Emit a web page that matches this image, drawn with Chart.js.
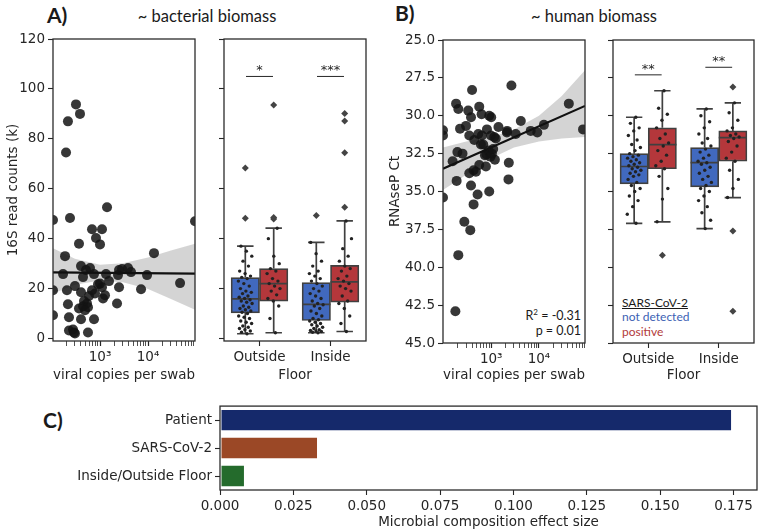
<!DOCTYPE html>
<html>
<head>
<meta charset="utf-8">
<script src="https://cdn.jsdelivr.net/npm/chart.js@4.4.0/dist/chart.umd.min.js"></script>
<style>
  body { margin: 0; background: #fff; width: 758px; height: 532px; position: relative; overflow: hidden; }
  canvas { position: absolute; }
  .t { position: absolute; white-space: nowrap; font-family: Lato, 'Open Sans', sans-serif; color: #1a1a1a; line-height: 1; }
</style>
</head>
<body>
<div class="t" style="left:47px;top:4px;font-size:21px;font-weight:bold">A)</div>
<div class="t" style="left:207px;top:8px;font-size:16.5px;transform:translateX(-50%)">~ bacterial biomass</div>
<div class="t" style="left:395px;top:2px;font-size:21px;font-weight:bold">B)</div>
<div class="t" style="left:594px;top:8px;font-size:16.5px;transform:translateX(-50%)">~ human biomass</div>
<div class="t" style="left:43px;top:409px;font-size:21px;font-weight:bold">C)</div>
<div class="t" style="right:177px;top:308px;font-size:12.5px">R<sup style="font-size:8px">2</sup> = -0.31</div>
<div class="t" style="right:177px;top:325px;font-size:12.5px">p = 0.01</div>
<div class="t" style="left:622px;top:297px;font-size:12px;text-decoration:underline">SARS-CoV-2</div>
<div class="t" style="left:622px;top:311px;font-size:12px;color:#3c5fb4">not detected</div>
<div class="t" style="left:622px;top:326px;font-size:12px;color:#b23a3a">positive</div>

<canvas id="cA1" width="200" height="400" style="left:0;top:0"></canvas>
<canvas id="cA2" width="175" height="400" style="left:200px;top:0"></canvas>
<canvas id="cB1" width="210" height="400" style="left:380px;top:0"></canvas>
<canvas id="cB2" width="168" height="400" style="left:590px;top:0"></canvas>
<canvas id="cC" width="758" height="137" style="left:0;top:395px"></canvas>

<script>
// ---- data ----
const floors = ['Outside', 'Inside'];

// A) scatter: viral copies per swab vs 16S read counts (k)
const copiesA = [105, 316, 383, 215, 196, 237, 1400, 681, 1100, 825, 1000, 365, 187, 170, 402, 511,
  619, 443, 205, 105, 215, 226, 105, 226, 287, 274, 301, 562, 402, 750, 301, 402, 365, 443, 464, 536,
  590, 681, 787, 750, 909, 1000, 1100, 1155, 1271, 1334, 1540, 562, 487, 2371, 2489, 2873, 3831, 4423,
  2489, 2260, 7150, 9530, 13300, 46400, 95000];
const readsA = [47.5, 93.8, 90, 87, 74.5, 48.3, 52.6, 43.8, 43.8, 40.3, 37.7, 38, 33, 25.8, 29, 27.4,
  28.2, 24.6, 19.3, 19.3, 13.7, 8.5, 9.3, 3.2, 2.4, 3.6, 2, 2.4, 7.7, 7.7, 21, 18.5, 12, 12.9, 15, 14,
  17, 19.3, 18, 25.8, 21.7, 22, 20.5, 16, 17.3, 25.8, 23, 12.5, 11.3, 25.4, 27.4, 27.8, 28.2, 26.6,
  20.5, 14, 19.7, 25.4, 34.2, 22.2, 47];
const fitAx = [105, 95000];
const fitAy = [26.5, 26.0];
const bandAx = [105, 300, 1000, 3000, 10000, 30000, 95000];
const bandAhi = [36.2, 32.0, 29.6, 30.2, 32.5, 35.3, 38.0];
const bandAlo = [18.0, 21.5, 23.2, 22.5, 19.8, 15.8, 11.5];

// A) boxes: 16S read counts by floor, SARS-CoV-2 not detected / positive
const aNdQ1 = [10.3, 7.2], aNdMed = [15.9, 13.7], aNdQ3 = [24.4, 22.4], aNdLo = [1.9, 2.3], aNdHi = [37, 38.5];
const aPoQ1 = [15, 14.6], aPoMed = [22, 22.7], aPoQ3 = [28, 29.3], aPoLo = [2.3, 2.8], aPoHi = [44.2, 47.1];
const aNdFliers = [[48.2, 68.3], [49.3]];
const aPoFliers = [[47.9, 48.5, 93.6], [52.6, 74.4, 87.1, 90.2]];
const aNdDots = [
  [1.9, 2.5, 3, 3.5, 4, 4.5, 5, 6, 6.5, 7, 8, 8.5, 9, 10, 10.5, 11, 11.5, 12, 12.5, 13, 14, 14.5, 15,
   15.5, 16, 16.5, 17, 18, 18.5, 19, 20, 21, 22, 23, 24, 24.5, 25, 26, 27, 29, 31, 33, 35, 37],
  [2.3, 2.5, 2.8, 3, 3.2, 3.5, 4, 4.5, 5, 5.5, 6, 6.5, 7, 7.5, 8, 9, 10, 11, 12, 13, 13.5, 14, 15, 16,
   17, 18, 19, 20, 21, 22, 23, 24, 25, 26, 27, 29, 31, 34, 38.5]
];
const aPoDots = [
  [2.3, 8, 13, 15, 16, 17.5, 19, 20, 21, 22, 23, 24, 26, 27, 28, 30, 33, 40, 44.2],
  [2.8, 6, 9, 12, 14, 15, 17, 19, 20, 21, 22, 23, 24, 25, 27, 28, 29, 31, 33, 36, 40, 47.1]
];
const sigA = ['*', '***'];
const sigAy = [105, 105];

// B) scatter: viral copies per swab vs RNAseP Ct
const copiesB = [98, 98, 98, 178, 205, 274, 365, 184, 205, 331, 398, 378, 562, 630, 910, 1000, 223, 297,
  348, 443, 536, 640, 681, 986, 1155, 1250, 1420, 2154, 2130, 4170, 3270, 6720, 9230, 12700, 2650, 42200,
  83700, 156, 196, 251, 189, 348, 378, 428, 479, 519, 428, 562, 610, 740, 776, 800, 879, 967, 1034, 1100,
  1195, 910, 2340, 2300, 815];
const ctB = [30.96, 31.3, 35.4, 42.9, 39.2, 37.0, 37.55, 29.2, 29.55, 29.66, 28.3, 30.1, 29.4, 29.9, 30.0,
  30.1, 30.85, 30.67, 31.3, 31.6, 31.2, 31.3, 31.9, 31.3, 31.4, 31.5, 30.74, 31.0, 31.1, 30.35, 31.2, 31.0,
  31.1, 30.6, 28.0, 29.2, 30.9, 33.0, 32.4, 32.5, 34.3, 33.8, 34.6, 33.6, 33.7, 35.2, 35.85, 33.25, 31.9,
  32.6, 33.35, 32.55, 32.3, 32.7, 32.5, 32.2, 32.9, 35.0, 33.1, 34.2, 30.9];
const fitBx = [98, 92000];
const fitBy = [33.5, 29.35];
const bandBx = [98, 300, 1000, 3000, 10000, 30000, 92000];
const bandBhi = [32.1, 31.7, 31.4, 30.9, 30.0, 28.7, 27.0];
const bandBlo = [34.9, 33.9, 32.8, 32.1, 31.7, 31.5, 31.4];

// B) boxes: RNAseP Ct by floor
const bNdQ1 = [32.5, 32.1], bNdMed = [33.35, 33.1], bNdQ3 = [34.5, 34.7], bNdLo = [30.1, 29.55], bNdHi = [37.1, 37.45];
const bPoQ1 = [30.8, 31.0], bPoMed = [31.9, 31.45], bPoQ3 = [33.5, 33.0], bPoLo = [28.35, 29.15], bPoHi = [37.0, 35.4];
const bNdFliers = [[], []];
const bPoFliers = [[39.2], [28.1, 37.6, 42.9]];
const bNdDots = [
  [30.1, 30.5, 30.8, 31.0, 31.3, 31.6, 31.9, 32.1, 32.3, 32.5, 32.6, 32.7, 32.8, 32.9, 33.0, 33.1, 33.2,
   33.3, 33.4, 33.5, 33.6, 33.7, 33.8, 33.9, 34.0, 34.2, 34.4, 34.6, 34.8, 35.0, 35.3, 35.6, 36.0, 36.5, 37.1],
  [29.55, 30.0, 30.4, 30.8, 31.2, 31.5, 31.8, 32.0, 32.2, 32.4, 32.6, 32.8, 33.0, 33.1, 33.2, 33.4, 33.6,
   33.8, 34.0, 34.2, 34.4, 34.6, 34.8, 35.0, 35.3, 35.6, 36.0, 36.4, 36.9, 37.45]
];
const bPoDots = [
  [28.35, 29.5, 29.9, 30.3, 30.8, 31.2, 31.5, 31.8, 32.0, 32.3, 32.6, 33.0, 33.3, 33.5, 34.0, 34.8, 35.5, 37.0],
  [29.15, 29.8, 30.3, 30.8, 31.0, 31.2, 31.3, 31.4, 31.5, 31.7, 32.0, 32.4, 32.8, 33.0, 33.6, 34.2, 34.8, 35.4]
];
const sigB = ['**', '**'];
const sigBy = [27.3, 26.8];

// C) effect sizes
const factors = ['Patient', 'SARS-CoV-2', 'Inside/Outside Floor'];
const effects = [0.1745, 0.0334, 0.0085];

// tick values
const logTicks = [200, 300, 400, 500, 600, 700, 800, 900, 1000, 2000, 3000, 4000, 5000, 6000, 7000, 8000,
  9000, 10000, 20000, 30000, 40000, 50000, 60000, 70000, 80000, 90000];
const logLabels = { 1000: '10³', 10000: '10⁴' };
const ticksA = [0, 20, 40, 60, 80, 100, 120];
const ticksB = [25, 27.5, 30, 32.5, 35, 37.5, 40, 42.5, 45];
const ticksC = [0, 0.025, 0.05, 0.075, 0.1, 0.125, 0.15, 0.175];

// ---- styles ----
const ink = '#262626';
const edge = '#404040';
const blue = '#4169be';
const red = '#b4373b';
const barColors = ['#15296b', '#9b4826', '#246b2c'];
const ptColor = 'rgba(20,20,20,0.85)';
const bandColor = 'rgba(160,160,160,0.45)';

Chart.defaults.font.family = "'DejaVu Sans', sans-serif";
Chart.defaults.font.size = 13.5;
Chart.defaults.color = ink;

const framePlugin = {
  id: 'frame',
  afterDraw(chart) {
    const { ctx, chartArea: a } = chart;
    ctx.save();
    ctx.strokeStyle = '#2b2b2b';
    ctx.lineWidth = 1.3;
    ctx.strokeRect(a.left, a.top, a.right - a.left, a.bottom - a.top);
    ctx.restore();
  }
};

// whiskers, caps and medians for the floating-bar boxes
const boxPlugin = {
  id: 'boxes',
  afterDatasetDraw(chart, args) {
    const ds = chart.data.datasets[args.index];
    if (args.meta.type !== 'bar' || !ds.med) return;
    const y = chart.scales.y;
    const ctx = chart.ctx;
    ctx.save();
    ctx.strokeStyle = edge;
    ctx.lineWidth = 1.7;
    args.meta.data.forEach((bar, i) => {
      const half = bar.width / 2, cap = half * 0.58;
      const y1 = y.getPixelForValue(ds.data[i].y[0]), y3 = y.getPixelForValue(ds.data[i].y[1]);
      const lo = y.getPixelForValue(ds.lo[i]), hi = y.getPixelForValue(ds.hi[i]);
      const m = y.getPixelForValue(ds.med[i]);
      ctx.beginPath();
      ctx.moveTo(bar.x, y1); ctx.lineTo(bar.x, lo);
      ctx.moveTo(bar.x, y3); ctx.lineTo(bar.x, hi);
      ctx.moveTo(bar.x - cap, lo); ctx.lineTo(bar.x + cap, lo);
      ctx.moveTo(bar.x - cap, hi); ctx.lineTo(bar.x + cap, hi);
      ctx.moveTo(bar.x - half, m); ctx.lineTo(bar.x + half, m);
      ctx.stroke();
    });
    ctx.restore();
  }
};

// significance bars
const sigPlugin = {
  id: 'sig',
  afterDraw(chart, args, opts) {
    if (!opts.marks) return;
    const { ctx } = chart;
    const xs = chart.scales.x, y = chart.scales.y;
    ctx.save();
    ctx.strokeStyle = ink;
    ctx.fillStyle = ink;
    ctx.lineWidth = 1;
    ctx.font = "13px 'DejaVu Sans'";
    ctx.textAlign = 'center';
    ctx.textBaseline = 'bottom';
    opts.marks.forEach((mark, i) => {
      const py = y.getPixelForValue(opts.at[i]);
      ctx.beginPath();
      ctx.moveTo(xs.getPixelForValue(i - 0.19), py);
      ctx.lineTo(xs.getPixelForValue(i + 0.19), py);
      ctx.stroke();
      ctx.fillText(mark, xs.getPixelForValue(i), py + 1);
    });
    ctx.restore();
  }
};

Chart.register(framePlugin, boxPlugin, sigPlugin);

const tickGrid = { drawOnChartArea: false, drawTicks: true, tickLength: 5, tickColor: ink, tickWidth: 1.1 };
const noPlugins = { legend: { display: false }, tooltip: { enabled: false } };
// strip-plot jitter: golden-ratio spread within +-0.1 of the box centre
const jit = k => (((k * 0.618034) % 1) - 0.5) * 0.2;
const pts = (xs, ys) => xs.map((x, i) => ({ x, y: ys[i] }));

function logAxis(min, max, bottom) {
  return {
    type: 'logarithmic', min, max,
    afterBuildTicks: s => { s.ticks = logTicks.map(v => ({ value: v })); },
    afterFit: s => { s.height = 400 - bottom; },
    border: { display: false },
    grid: Object.assign({}, tickGrid, { tickWidth: c => (c.tick && logLabels[c.tick.value] ? 1.2 : 0.8) }),
    ticks: { autoSkip: false, maxRotation: 0, padding: 3, callback: v => logLabels[v] || '' },
    title: { display: true, text: 'viral copies per swab', padding: { top: 0, bottom: 16 } }
  };
}

function scatterSets(xs, ys, fx, fy, bx, bhi, blo) {
  return [
    { data: pts(fx, fy), showLine: true, borderColor: '#111', borderWidth: 2.2, pointRadius: 0 },
    { data: pts(xs, ys), pointRadius: 5, backgroundColor: ptColor, borderWidth: 0 },
    { data: pts(bx, bhi), showLine: true, borderColor: 'transparent', pointRadius: 0, fill: '+1', backgroundColor: bandColor },
    { data: pts(bx, blo), showLine: true, borderColor: 'transparent', pointRadius: 0 }
  ];
}

// groups: [q1, median, q3, whisker low, whisker high]
function boxSets(nd, po, fliersNd, fliersPo, dotsNd, dotsPo) {
  const dots = (groups, off) => groups.flatMap((g, i) => g.map((v, k) => ({ x: i + off + jit(k + 1), y: v })));
  const fl = (groups, off) => groups.flatMap((g, i) => g.map(v => ({ x: i + off, y: v })));
  const dotStyle = { type: 'scatter', pointRadius: 1.7, backgroundColor: '#222', borderWidth: 0 };
  const flStyle = { type: 'scatter', pointStyle: 'rectRot', pointRadius: 3.5, backgroundColor: '#444', borderWidth: 0 };
  const box = (g, off, color) => ({
    type: 'bar', grouped: false, categoryPercentage: 1, barPercentage: 1,
    data: floors.map((_, i) => ({ x: i + off, y: [g[0][i], g[2][i]] })),
    med: g[1], lo: g[3], hi: g[4],
    backgroundColor: color, borderColor: edge, borderWidth: 1.7, borderSkipped: false
  });
  return [
    Object.assign({ data: dots(dotsNd, -0.2) }, dotStyle),
    Object.assign({ data: dots(dotsPo, 0.2) }, dotStyle),
    Object.assign({ data: fl(fliersNd, -0.2) }, flStyle),
    Object.assign({ data: fl(fliersPo, 0.2) }, flStyle),
    box(nd, -0.2, blue),
    box(po, 0.2, red)
  ];
}

function boxX(bottom) {
  return {
    type: 'linear', min: -0.5, max: 1.5, offset: false,
    afterBuildTicks: s => { s.ticks = floors.map((_, i) => ({ value: i })); },
    afterFit: s => { s.height = 400 - bottom; },
    border: { display: false },
    grid: Object.assign({ offset: false }, tickGrid),
    ticks: { padding: 3, maxRotation: 0, autoSkip: false, callback: v => floors[v] },
    title: { display: true, text: 'Floor', padding: { top: 0, bottom: 16 } }
  };
}

// A) scatter
new Chart(document.getElementById('cA1'), {
  type: 'scatter',
  data: { datasets: scatterSets(copiesA, readsA, fitAx, fitAy, bandAx, bandAhi, bandAlo) },
  options: {
    responsive: false, animation: false, events: [],
    layout: { padding: { top: 39, right: 5, left: 0, bottom: 0 } },
    plugins: noPlugins,
    scales: {
      x: logAxis(105, 95000, 341),
      y: {
        min: -1, max: 120,
        afterBuildTicks: s => { s.ticks = ticksA.map(v => ({ value: v })); },
        afterFit: s => { s.width = 53; },
        border: { display: false }, grid: tickGrid, ticks: { padding: 3 },
        title: { display: true, text: '16S read counts (k)', padding: { top: 5, bottom: 0 } }
      }
    }
  }
});

// A) boxes
new Chart(document.getElementById('cA2'), {
  type: 'bar',
  data: {
    datasets: boxSets([aNdQ1, aNdMed, aNdQ3, aNdLo, aNdHi], [aPoQ1, aPoMed, aPoQ3, aPoLo, aPoHi],
      aNdFliers, aPoFliers, aNdDots, aPoDots)
  },
  options: {
    responsive: false, animation: false, events: [],
    layout: { padding: { top: 39, right: 9, left: 0, bottom: 0 } },
    plugins: Object.assign({ sig: { marks: sigA, at: sigAy } }, noPlugins),
    scales: {
      x: boxX(341),
      y: {
        min: -1, max: 120,
        afterBuildTicks: s => { s.ticks = ticksA.map(v => ({ value: v })); },
        afterFit: s => { s.width = 24; },
        border: { display: false }, grid: tickGrid, ticks: { callback: () => '' }
      }
    }
  }
});

// B) scatter
new Chart(document.getElementById('cB1'), {
  type: 'scatter',
  data: { datasets: scatterSets(copiesB, ctB, fitBx, fitBy, bandBx, bandBhi, bandBlo) },
  options: {
    responsive: false, animation: false, events: [],
    layout: { padding: { top: 40, right: 4, left: 0, bottom: 0 } },
    plugins: noPlugins,
    scales: {
      x: logAxis(98, 92000, 343),
      y: {
        min: 25, max: 45, reverse: true,
        afterBuildTicks: s => { s.ticks = ticksB.map(v => ({ value: v })); },
        afterFit: s => { s.width = 63; },
        border: { display: false }, grid: tickGrid, ticks: { padding: 3, callback: v => v.toFixed(1) },
        title: { display: true, text: 'RNAseP Ct', padding: { top: 7, bottom: 0 } }
      }
    }
  }
});

// B) boxes
new Chart(document.getElementById('cB2'), {
  type: 'bar',
  data: {
    datasets: boxSets([bNdQ1, bNdMed, bNdQ3, bNdLo, bNdHi], [bPoQ1, bPoMed, bPoQ3, bPoLo, bPoHi],
      bNdFliers, bPoFliers, bNdDots, bPoDots)
  },
  options: {
    responsive: false, animation: false, events: [],
    layout: { padding: { top: 40, right: 3, left: 0, bottom: 0 } },
    plugins: Object.assign({ sig: { marks: sigB, at: sigBy } }, noPlugins),
    scales: {
      x: boxX(343),
      y: {
        min: 25, max: 45, reverse: true,
        afterBuildTicks: s => { s.ticks = ticksB.map(v => ({ value: v })); },
        afterFit: s => { s.width = 23; },
        border: { display: false }, grid: tickGrid, ticks: { callback: () => '' }
      }
    }
  }
});

// C) effect sizes
new Chart(document.getElementById('cC'), {
  type: 'bar',
  data: {
    labels: factors,
    datasets: [{ data: effects, backgroundColor: barColors, borderColor: 'rgba(255,255,255,0.55)', borderWidth: 1,
      borderSkipped: false, categoryPercentage: 0.8, barPercentage: 1 }]
  },
  options: {
    indexAxis: 'y',
    responsive: false, animation: false, events: [],
    layout: { padding: { top: 10, right: 1, left: 0, bottom: 0 } },
    plugins: noPlugins,
    scales: {
      x: {
        min: 0, max: 0.183,
        afterBuildTicks: s => { s.ticks = ticksC.map(v => ({ value: v })); },
        afterFit: s => { s.height = 42; },
        border: { display: false }, grid: tickGrid, ticks: { padding: 3, maxRotation: 0, callback: v => v.toFixed(3) },
        title: { display: true, text: 'Microbial composition effect size', padding: { top: 0, bottom: 1 } }
      },
      y: {
        afterFit: s => { s.width = 220; },
        border: { display: false }, grid: Object.assign({ offset: false }, tickGrid), ticks: { padding: 3 }
      }
    }
  }
});
</script>
</body>
</html>
